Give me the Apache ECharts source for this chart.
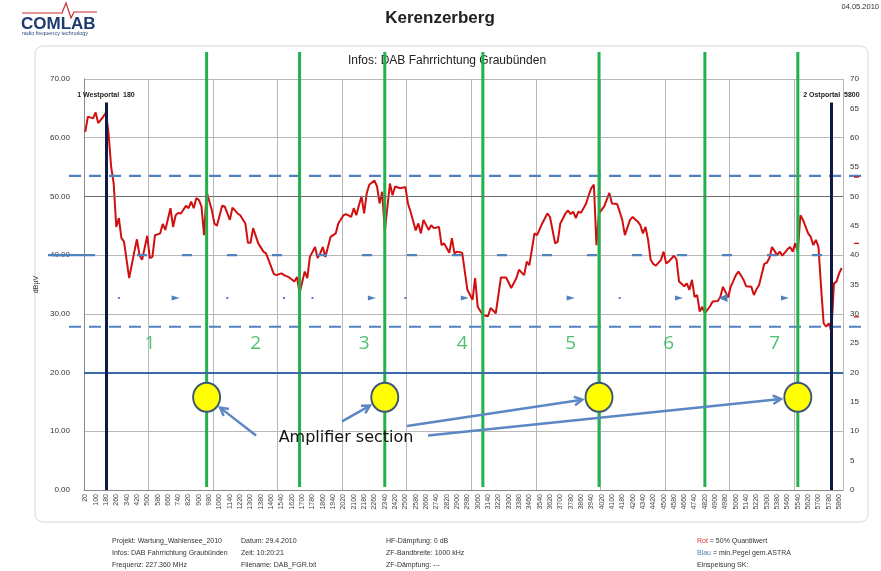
<!DOCTYPE html>
<html>
<head>
<meta charset="utf-8">
<script src="https://cdn.jsdelivr.net/npm/echarts@6/dist/echarts.min.js"></script>
<style>
  html, body { margin: 0; padding: 0; background: #ffffff; }
  #chart { width: 881px; height: 571px; }
</style>
</head>
<body>
<div id="chart"></div>
<script>
// Measuring positions along the tunnel, one every 20 m
const firstDistance = 20, lastDistance = 5880, distanceStep = 20;
const categories = [];
for (let d = firstDistance; d <= lastDistance; d += distanceStep) categories.push(String(d));

// Received level (dBµV), 50% quantile, at selected positions along the drive
const levelDistance = [
  20, 40, 80, 100, 120, 160, 180, 200, 220, 240, 260, 280, 300, 320, 360, 400, 420, 440, 460, 500,
  520, 540, 560, 600, 620, 640, 680, 700, 720, 740, 760, 800, 820, 840, 860, 880, 900, 920, 940, 960,
  1000, 1020, 1040, 1080, 1100, 1140, 1160, 1200, 1220, 1260, 1280, 1300, 1320, 1360, 1400, 1420, 1440, 1480, 1500, 1540,
  1560, 1600, 1640, 1660, 1680, 1720, 1740, 1760, 1800, 1820, 1840, 1860, 1880, 1920, 1940, 1960, 1980, 2020, 2040, 2080,
  2100, 2120, 2140, 2160, 2180, 2200, 2220, 2260, 2280, 2300, 2320, 2340, 2380, 2400, 2420, 2460, 2500, 2520, 2540, 2580,
  2600, 2620, 2640, 2680, 2700, 2720, 2760, 2780, 2800, 2840, 2860, 2880, 2900, 2940, 2980, 3020, 3040, 3060, 3100, 3140,
  3160, 3200, 3240, 3280, 3320, 3360, 3380, 3420, 3440, 3460, 3500, 3520, 3560, 3600, 3620, 3660, 3680, 3700, 3740, 3760,
  3780, 3800, 3820, 3840, 3860, 3900, 3920, 3940, 3960, 3980, 4000, 4040, 4080, 4100, 4140, 4160, 4180, 4200, 4240, 4260,
  4300, 4320, 4340, 4360, 4380, 4400, 4420, 4440, 4480, 4500, 4520, 4540, 4580, 4600, 4620, 4660, 4680, 4700, 4720, 4740,
  4760, 4780, 4800, 4820, 4860, 4880, 4920, 4940, 4960, 5000, 5020, 5060, 5080, 5120, 5140, 5180, 5200, 5220, 5240, 5280,
  5300, 5320, 5340, 5380, 5400, 5420, 5460, 5480, 5500, 5520, 5540, 5560, 5580, 5620, 5640, 5660, 5680, 5700, 5720, 5740,
  5760, 5780, 5800, 5820, 5840, 5860, 5880
];
const levelValue = [
  61.0, 63.6, 63.3, 64.3, 62.5, 63.6, 64.3, 60.8, 55.1, 52.2, 44.8, 46.3, 42.9, 42.3, 36.1, 40.6, 42.7, 40.0, 39.2, 43.3,
  39.5, 39.7, 43.4, 43.7, 45.3, 44.3, 48.0, 44.8, 46.8, 47.2, 47.1, 48.4, 48.0, 49.1, 48.0, 49.7, 49.4, 48.3, 43.4, 50.8,
  47.7, 45.4, 45.0, 48.4, 48.3, 46.0, 48.1, 47.1, 46.8, 45.4, 42.1, 42.1, 44.6, 42.0, 40.6, 40.3, 39.2, 36.8, 36.6, 36.9,
  36.6, 36.2, 35.5, 36.3, 33.5, 37.2, 36.1, 39.7, 41.4, 39.5, 40.3, 41.4, 39.7, 43.1, 43.4, 43.7, 45.4, 46.8, 47.0, 46.5,
  48.0, 46.8, 48.5, 50.0, 47.1, 50.5, 52.0, 52.7, 51.7, 48.8, 50.8, 44.0, 52.2, 50.2, 51.7, 51.4, 51.6, 48.8, 47.4, 44.2,
  45.4, 43.7, 46.0, 44.3, 45.1, 44.6, 44.8, 41.7, 42.0, 40.4, 42.9, 40.3, 40.6, 40.4, 34.1, 32.4, 36.1, 31.2, 29.8, 29.6,
  31.0, 30.1, 36.2, 36.2, 34.4, 36.1, 37.5, 36.6, 38.9, 38.3, 43.7, 43.4, 45.4, 47.1, 46.5, 42.0, 42.3, 45.4, 47.1, 47.6,
  47.0, 47.4, 46.3, 47.4, 47.2, 48.8, 50.2, 51.4, 52.0, 41.7, 47.1, 48.3, 50.6, 48.8, 48.7, 47.4, 46.0, 43.4, 46.0, 46.5,
  45.7, 45.1, 43.7, 44.8, 42.6, 39.2, 38.5, 38.2, 39.2, 40.6, 38.6, 38.9, 39.9, 39.3, 35.5, 34.7, 35.2, 34.1, 35.8, 32.9,
  33.2, 30.4, 31.2, 30.1, 31.3, 32.1, 32.2, 32.9, 34.6, 32.8, 34.6, 36.6, 37.2, 35.8, 34.7, 34.6, 33.2, 34.2, 34.9, 38.5,
  38.7, 39.5, 41.4, 40.0, 40.6, 39.9, 41.0, 41.4, 40.6, 42.0, 40.6, 46.8, 46.0, 43.7, 43.1, 41.7, 42.6, 41.4, 34.6, 28.4,
  27.8, 28.4, 27.0, 35.2, 35.5, 36.9, 37.8
];

// Tunnel portals
const portalDistance = [180, 5800];
const portalLabel = ['1 Westportal  180', '2 Ostportal  5800'];
const portalTopLevel = 66;

// Section borders (green) and amplifier positions (yellow)
const sectionBorderDistance = [960, 1680, 2340, 3100, 4000, 4820, 5540];
const sectionBorderTop = 74.6, sectionBorderBottom = 0.5;
const amplifierDistance = [960, 2340, 4000, 5540];
const amplifierLevel = 15.8;

// Section numbers
const sectionNumberDistance = [520, 1340, 2180, 2940, 3780, 4540, 5360];
const sectionNumberText = ['1', '2', '3', '4', '5', '6', '7'];
const sectionNumberLevel = 25;

// Small blue markers of the minimum-level trace
const markerDistance = [280, 720, 1120, 1560, 1780, 2240, 2500, 2960, 3780, 4160, 4620, 4960, 5440];
const markerKind = ['dot', 'right', 'dot', 'dot', 'dot', 'right', 'dot', 'right', 'right', 'dot', 'right', 'left', 'right'];
const markerLevel = 32.7;

// Reference levels
const upperLimitLevel = 53.5;
const middleLimitLevel = 40;
const lowerLimitLevel = 27.8;
const solidLimitLevel = 20;
const emphasisGridLevel = 50;
const sideTickLevels = [53.3, 42.0, 29.5];

const idx = d => categories.indexOf(String(d));

const BLUE = '#4f81bd';
const GREEN = '#22b14c';
const FONT = 'Liberation Sans, Arial, sans-serif';

const chart = echarts.init(document.getElementById('chart'), null, { renderer: 'canvas' });

// One vertical green line per section border, allowed to run past the plot top
const sectionBorderSeries = sectionBorderDistance.map(d => ({
  name: 'section border ' + d,
  type: 'line',
  clip: false,
  z: 3,
  symbol: 'none',
  lineStyle: { color: GREEN, width: 3 },
  data: [[idx(d), sectionBorderBottom], [idx(d), sectionBorderTop]]
}));

const option = {
  animation: false,
  backgroundColor: '#ffffff',
  grid: { left: 84, right: 38, top: 79, bottom: 81, containLabel: false },
  xAxis: {
    type: 'category',
    data: categories,
    boundaryGap: true,
    axisLine: { show: true, lineStyle: { color: '#8a8a8a', width: 1 } },
    axisTick: { show: false },
    axisLabel: { interval: 3, rotate: 90, fontSize: 7, color: '#444', margin: 4, fontFamily: FONT },
    splitLine: { show: true, interval: i => i % 25 === 0, lineStyle: { color: '#b8b8b8', width: 1 } }
  },
  yAxis: [
    {
      type: 'value', min: 0, max: 70, interval: 10, position: 'left',
      axisLine: { show: true, lineStyle: { color: '#8a8a8a' } },
      axisTick: { show: false },
      axisLabel: { formatter: v => v.toFixed(2), fontSize: 8, color: '#333', margin: 14, fontFamily: FONT },
      splitLine: { show: true, lineStyle: { color: '#b8b8b8', width: 1 } },
      name: 'dBµV', nameLocation: 'middle', nameGap: 29, nameRotate: 90,
      nameTextStyle: { fontSize: 7, color: '#333', fontFamily: FONT }
    },
    {
      type: 'value', min: 0, max: 70, interval: 5, position: 'right',
      axisLine: { show: false }, axisTick: { show: false },
      axisLabel: { fontSize: 8, color: '#333', margin: 7, fontFamily: FONT },
      splitLine: { show: false }
    }
  ],
  series: [
    {
      name: 'reference',
      type: 'line',
      data: [],
      z: 1,
      markLine: {
        silent: true,
        symbol: ['none', 'none'],
        label: { show: false },
        data: [
          { yAxis: emphasisGridLevel, lineStyle: { color: '#6e6e6e', width: 1, type: 'solid' } },
          { yAxis: solidLimitLevel, lineStyle: { color: '#3a69a8', width: 2, type: 'solid' } }
        ]
      }
    },
    {
      name: 'Rot = 50% Quantilwert',
      type: 'line',
      data: levelDistance.map((d, i) => [idx(d), levelValue[i]]),
      showSymbol: false,
      symbol: 'none',
      lineStyle: { color: '#d10f0f', width: 2 },
      z: 2,
      markLine: {
        silent: true,
        symbol: ['none', 'none'],
        lineStyle: { color: '#0e1a48', width: 3, type: 'solid' },
        label: {
          show: true, position: 'end', distance: 4,
          fontSize: 7, fontWeight: 'bold', color: '#222', fontFamily: FONT,
          formatter: p => p.data.portal
        },
        data: portalDistance.map((d, i) => [
          { coord: [idx(d), 0], portal: portalLabel[i] },
          { coord: [idx(d), portalTopLevel] }
        ])
      }
    },
    ...sectionBorderSeries,
    {
      name: 'markers',
      type: 'scatter',
      z: 4,
      data: markerDistance.map((d, i) => {
        const k = markerKind[i];
        return {
          value: [idx(d), markerLevel],
          symbol: k === 'dot' ? 'rect' : 'triangle',
          symbolSize: k === 'dot' ? 2 : (k === 'left' ? [8, 9] : [5, 8]),
          symbolRotate: k === 'right' ? -90 : (k === 'left' ? 90 : 0)
        };
      }),
      itemStyle: { color: BLUE, opacity: 1 }
    },
    {
      name: 'section numbers',
      type: 'scatter',
      z: 5,
      symbolSize: 1,
      itemStyle: { color: 'rgba(0,0,0,0)' },
      data: sectionNumberDistance.map((d, i) => ({ value: [idx(d), sectionNumberLevel], name: sectionNumberText[i] })),
      label: {
        show: true, position: 'inside', formatter: p => p.name,
        fontSize: 19, color: GREEN, fontFamily: 'Open Sans, sans-serif'
      }
    },
    {
      name: 'amplifiers',
      type: 'scatter',
      z: 10,
      symbol: 'circle',
      symbolSize: [27, 29],
      data: amplifierDistance.map(d => [idx(d), amplifierLevel]),
      itemStyle: { color: '#ffff00', borderColor: '#3d5677', borderWidth: 2, opacity: 1 }
    }
  ]
};

chart.setOption(option);

const toPx = (d, v) => chart.convertToPixel({ gridIndex: 0 }, [idx(d), v]);
const yPx = v => chart.convertToPixel({ yAxisIndex: 0 }, v);

const graphics = [];

// Report frame
graphics.push({
  type: 'rect', z: 0, silent: true,
  shape: { x: 35, y: 46, width: 833, height: 476, r: 8 },
  style: { fill: null, stroke: '#d6d6d6', lineWidth: 1 }
});

// Company logo
graphics.push({
  type: 'polyline', z: 1, silent: true,
  shape: { points: [[22, 13], [62, 13], [66, 3], [71, 18], [74, 12], [97, 12]] },
  style: { stroke: '#c62a2f', lineWidth: 1.2, fill: null }
});
graphics.push({
  type: 'text', z: 1, silent: true,
  style: { x: 21, y: 16, text: 'COMLAB', font: 'bold 17px ' + FONT, fill: '#1c3b6f' }
});
graphics.push({
  type: 'text', z: 1, silent: true,
  style: { x: 22, y: 30, text: 'radio frequency technology', font: '5.5px ' + FONT, fill: '#2a4a80' }
});

// Titles and date
graphics.push({
  type: 'text', z: 1, silent: true,
  style: { x: 440, y: 18, text: 'Kerenzerberg', font: 'bold 17px ' + FONT, fill: '#222', align: 'center', verticalAlign: 'middle' }
});
graphics.push({
  type: 'text', z: 1, silent: true,
  style: { x: 447, y: 61, text: 'Infos: DAB Fahrrichtung Graubünden', font: '12px ' + FONT, fill: '#222', align: 'center', verticalAlign: 'middle' }
});
graphics.push({
  type: 'text', z: 1, silent: true,
  style: { x: 879, y: 7, text: '04.05.2010', font: '7.5px ' + FONT, fill: '#333', align: 'right', verticalAlign: 'middle' }
});

// Dashed reference levels
const dashed = (v, x1, x2, dash) => ({
  type: 'line', z: 3, silent: true,
  shape: { x1: x1, y1: yPx(v), x2: x2, y2: yPx(v) },
  style: { stroke: BLUE, lineWidth: 2.2, lineDash: dash }
});
graphics.push(dashed(upperLimitLevel, 69, 868, [12, 8]));
graphics.push(dashed(lowerLimitLevel, 69, 868, [12, 8]));
graphics.push(dashed(middleLimitLevel, 48, 95, null));
graphics.push(dashed(middleLimitLevel, 137, 828, [10, 35]));

// Small red ticks beside the right axis
sideTickLevels.forEach(v => {
  graphics.push({
    type: 'line', z: 3, silent: true,
    shape: { x1: 854, y1: yPx(v), x2: 859, y2: yPx(v) },
    style: { stroke: '#d10f0f', lineWidth: 1.3 }
  });
});

// "Amplifier section" caption and arrows to the amplifiers
const captionAnchor = toPx(2040, 8.95);
graphics.push({
  type: 'text', z: 20, silent: true,
  style: {
    x: captionAnchor[0], y: captionAnchor[1], text: 'Amplifier section',
    font: '16px DejaVu Sans, sans-serif', fill: '#111', align: 'center', verticalAlign: 'middle'
  }
});
const arrowStartOffset = [[-90, -2], [-4, -16], [61, -11.5], [82, -2]];
const arrowColor = '#5b87c5';
amplifierDistance.forEach((d, i) => {
  const c = toPx(d, amplifierLevel);
  const s = [captionAnchor[0] + arrowStartOffset[i][0], captionAnchor[1] + arrowStartOffset[i][1]];
  const dx = c[0] - s[0], dy = c[1] - s[1], L = Math.hypot(dx, dy);
  const ux = dx / L, uy = dy / L;
  const e = [c[0] - ux * 17, c[1] - uy * 17];
  const h = 9, a = 0.5, ca = Math.cos(a), sa = Math.sin(a);
  const p1 = [e[0] - h * (ux * ca - uy * sa), e[1] - h * (uy * ca + ux * sa)];
  const p2 = [e[0] - h * (ux * ca + uy * sa), e[1] - h * (uy * ca - ux * sa)];
  graphics.push({
    type: 'line', z: 20, silent: true,
    shape: { x1: s[0], y1: s[1], x2: e[0], y2: e[1] },
    style: { stroke: arrowColor, lineWidth: 2.5 }
  });
  graphics.push({
    type: 'polyline', z: 20, silent: true,
    shape: { points: [p1, e, p2] },
    style: { stroke: arrowColor, lineWidth: 2.5, fill: null }
  });
});

// Footer with measurement details
const footerColumns = [
  { x: 112, lines: [['Projekt: Wartung_Wahlensee_2010'], ['Infos: DAB Fahrrichtung Graubünden'], ['Frequenz: 227.360 MHz']] },
  { x: 241, lines: [['Datum: 29.4.2010'], ['Zeit: 10:20:21'], ['Filename: DAB_FGR.txt']] },
  { x: 386, lines: [['HF-Dämpfung: 0 dB'], ['ZF-Bandbreite: 1000 kHz'], ['ZF-Dämpfung: ---']] },
  { x: 697, lines: [['Rot', ' = 50% Quantilwert'], ['Blau', ' = min.Pegel gem.ASTRA'], ['Einspeisung SK:']] }
];
const footerY = [541, 553, 565];
footerColumns.forEach(col => {
  col.lines.forEach((parts, li) => {
    if (parts.length === 1) {
      graphics.push({
        type: 'text', z: 1, silent: true,
        style: { x: col.x, y: footerY[li], text: parts[0], font: '7px ' + FONT, fill: '#333', verticalAlign: 'middle' }
      });
    } else {
      graphics.push({
        type: 'text', z: 1, silent: true,
        style: {
          x: col.x, y: footerY[li],
          text: '{c|' + parts[0] + '}{n|' + parts[1] + '}',
          font: '7px ' + FONT, verticalAlign: 'middle',
          rich: {
            c: { fill: li === 0 ? '#e03030' : '#4f81bd', font: '7px ' + FONT },
            n: { fill: '#333', font: '7px ' + FONT }
          }
        }
      });
    }
  });
});

chart.setOption({ graphic: graphics });
</script>
</body>
</html>
